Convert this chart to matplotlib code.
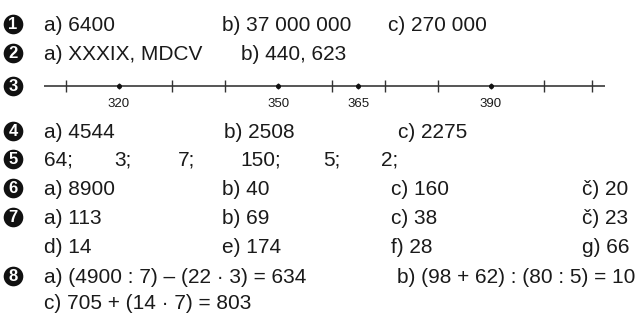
import matplotlib
matplotlib.use("Agg")
import matplotlib.pyplot as plt

plt.rcParams['font.family'] = ['Liberation Sans', 'DejaVu Sans']

# ---- data ----
ex_numbers = ["1", "2", "3", "4", "5", "6", "7", "8"]
ex1 = ["a) 6400", "b) 37 000 000", "c) 270 000"]
ex2 = ["a) XXXIX, MDCV", "b) 440, 623"]
line_ticks = [310, 330, 340, 360, 370, 380, 400, 409]
line_marks = [320, 350, 365, 390]
line_range = (305.9, 411.45)
ex4 = ["a) 4544", "b) 2508", "c) 2275"]
ex5 = ["64;", "3;", "7;", "150;", "5;", "2;"]
ex6 = ["a) 8900", "b) 40", "c) 160", "č) 20"]
ex7a = ["a) 113", "b) 69", "c) 38", "č) 23"]
ex7b = ["d) 14", "e) 174", "f) 28", "g) 66"]
ex8a = ["a) (4900 : 7) – (22 · 3) = 634", "b) (98 + 62) : (80 : 5) = 10"]
ex8b = ["c) 705 + (14 · 7) = 803"]

W, H = 639, 315
fig = plt.figure(figsize=(W / 100, H / 100), dpi=100)
ax = fig.add_axes([0, 0, 1, 1])
ax.set_xlim(0, W)
ax.set_ylim(H, 0)
ax.axis('off')

TXT = '#1a1a1a'
FS = 15

circle_rows = [24, 53, 86, 131, 159, 188, 217, 276]
circ_x = 13
ax.scatter([circ_x] * len(circle_rows), circle_rows, s=200, color='#111111',
           linewidths=0, zorder=2)
for n, y in zip(ex_numbers, circle_rows):
    ax.text(circ_x, y + 0.5, n, color='white', fontsize=12, fontweight='bold',
            ha='center', va='center', zorder=3)

def row(items, xs, y):
    for t, x in zip(items, xs):
        ax.text(x, y, t, fontsize=FS, color=TXT, ha='left', va='baseline')

row(ex1, [44, 222, 388], 31)
row(ex2, [44, 241], 60)
row(ex4, [44, 224, 398], 138)
row(ex5, [44, 114, 178, 240, 323, 381], 166)
row(ex6, [44, 222, 391, 582], 195)
row(ex7a, [44, 222, 391, 582], 224)
row(ex7b, [44, 222, 391, 582], 253)
row(ex8a, [44, 397], 283)
row(ex8b, [44], 309)

# ---- number line ----
x0, x1 = 44 / W, 605 / W
ly = 86
lax = fig.add_axes([x0, 1 - (ly + 20) / H, x1 - x0, 40 / H])
lax.set_xlim(*line_range)
lax.set_ylim(-1, 1)
lax.axis('off')
lax.plot(line_range, [0, 0], color='#555555', lw=1.4, solid_capstyle='butt')
lax.vlines(line_ticks, -0.28, 0.28, color='#333333', lw=1.0)
lax.vlines(line_marks, -0.15, 0.15, color='#333333', lw=1.0)
lax.scatter(line_marks, [0] * len(line_marks), s=7, color='#111111', zorder=3)
for v in line_marks:
    lax.text(v, -0.92, str(v), fontsize=9.5, color=TXT, ha='center', va='center')

fig.savefig('out.png', dpi=100)
